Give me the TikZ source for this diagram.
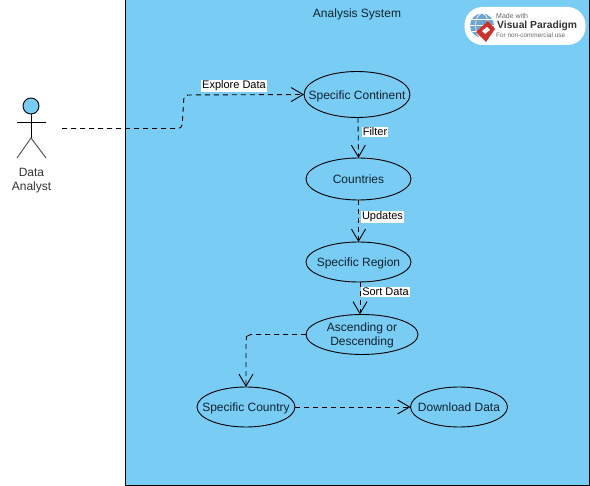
\documentclass[tikz,border=0pt]{standalone}
\usepackage{fontspec}
\setmainfont{Liberation Sans}
\usetikzlibrary{arrows.meta,shapes.geometric,positioning}
\definecolor{sysblue}{HTML}{79CDF5}
\definecolor{inkc}{HTML}{10222E}
\definecolor{vpred}{HTML}{C8342C}
\definecolor{vpblue}{HTML}{4A8FC4}
\newcommand{\ucbox}[1]{\makebox[0pt][c]{\raisebox{-4.6pt}[0pt][0pt]{#1}}}
\tikzset{
  x=1pt,y=-1pt,
  usecase/.style={ellipse,draw=black,line width=0.9pt,inner sep=0pt,outer sep=0pt,minimum width=#1,text=inkc,font=\fontsize{12}{14}\selectfont},
  flow/.style={draw=black,line width=0.9pt,dash pattern=on 5pt off 4pt,-{Straight Barb[length=12pt,width=14pt,line width=0.9pt]},rounded corners=4pt},
  tag/.style={fill=white,inner sep=1pt,font=\fontsize{11}{13}\selectfont,text=black},
  actorline/.style={draw=black,line width=0.9pt},
}
\begin{document}
\begin{tikzpicture}
\useasboundingbox (0,0) rectangle (590,486);
\fill[white] (0,0) rectangle (590,486);
\node[draw=black,line width=1pt,fill=sysblue,minimum width=463.5pt,minimum height=485.5pt,inner sep=0pt,anchor=north west] (system) at (125,-0.5) {};
\node[font=\fontsize{12}{14}\selectfont,text=inkc] (systitle) at (357,14.8) {Analysis System};

% logo
\node[fill=white,rounded corners=18pt,minimum width=121pt,minimum height=38pt,inner sep=0pt] (logo) at (525,26) {};
\fill[vpblue!80] (482,25.5) circle (12);
\draw[white,line width=0.6pt] (482,25.5) circle (6.5 and 12) (470,25.5) -- (494,25.5) (472,19.5) -- (492,19.5) (472,31.5) -- (492,31.5);
\fill[vpred] (488,21) -- (495,29) -- (486,42) -- (476,32) -- cycle;
\fill[white] (487,27) -- (490,30) -- (485,34) -- (482,31) -- cycle;
\node[anchor=west,inner sep=0pt,font=\fontsize{7}{8}\selectfont,text=black!60] (made) at (496,16) {Made with};
\node[anchor=west,inner sep=0pt,font=\bfseries\fontsize{10.3}{12}\selectfont,text=black!80] (vp) at (497,25.5) {Visual Paradigm};
\node[anchor=west,inner sep=0pt,font=\fontsize{6.4}{8}\selectfont,text=black!60] (fnc) at (496,35.5) {For non-commercial use};

% actor
\node[circle,draw=black,line width=0.9pt,fill=sysblue,minimum size=16pt,inner sep=0pt] (head) at (31,106) {};
\coordinate (hip) at (31,138);
\coordinate (armL) at (17,122);
\coordinate (armR) at (46,122);
\coordinate (legL) at (17,158);
\coordinate (legR) at (46,158);
\draw[actorline] (head.south) -- (hip);
\draw[actorline] (armL) -- (armR);
\draw[draw=black!65,line width=1pt] (legL) -- (hip) -- (legR);
\node[align=center,font=\fontsize{12}{14}\selectfont,text=black!80,inner sep=0pt] (actorlabel) at (31.5,180.3) {Data\\Analyst};
\coordinate (actorout) at (62,128.5);

% use cases
\node[usecase=106pt,minimum height=46pt] (continent) at (357,94.5) {\ucbox{Specific Continent}};
\node[usecase=105pt,minimum height=42pt] (countries) at (358.5,179) {\ucbox{Countries}};
\node[usecase=105pt,minimum height=40pt] (region) at (358.5,262) {\ucbox{Specific Region}};
\node[usecase=112pt,minimum height=40pt] (ascending) at (362,334.5) {\ucbox{\begin{tabular}{@{}c@{}}Ascending or\\[0pt]Descending\end{tabular}}};
\node[usecase=98pt,minimum height=40pt] (country) at (246,407) {\ucbox{Specific Country}};
\node[usecase=97pt,minimum height=40pt] (download) at (459,407) {\ucbox{Download Data}};

% connectors
\draw[flow] (actorout) -- (182,128.5) -- (184,95) -- (continent.west);
\draw[flow] (continent.south -| 358,0) -- (countries.north);
\draw[flow] (countries.south) -- (region.north);
\draw[flow] (region.south -| 360,0) -- (ascending.north -| 360,0);
\draw[flow] (ascending.west) -- (247,334.5) -- (246,340) -- (country.north);
\draw[flow] (country.east) -- (download.west);

% connector labels
\node[tag] (l1) at (234,86) {Explore Data};
\node[tag] (l2) at (375,131.8) {Filter};
\node[tag] (l3) at (382.5,216.8) {Updates};
\node[tag] (l4) at (385.5,291.8) {Sort Data};
\end{tikzpicture}
\end{document}
